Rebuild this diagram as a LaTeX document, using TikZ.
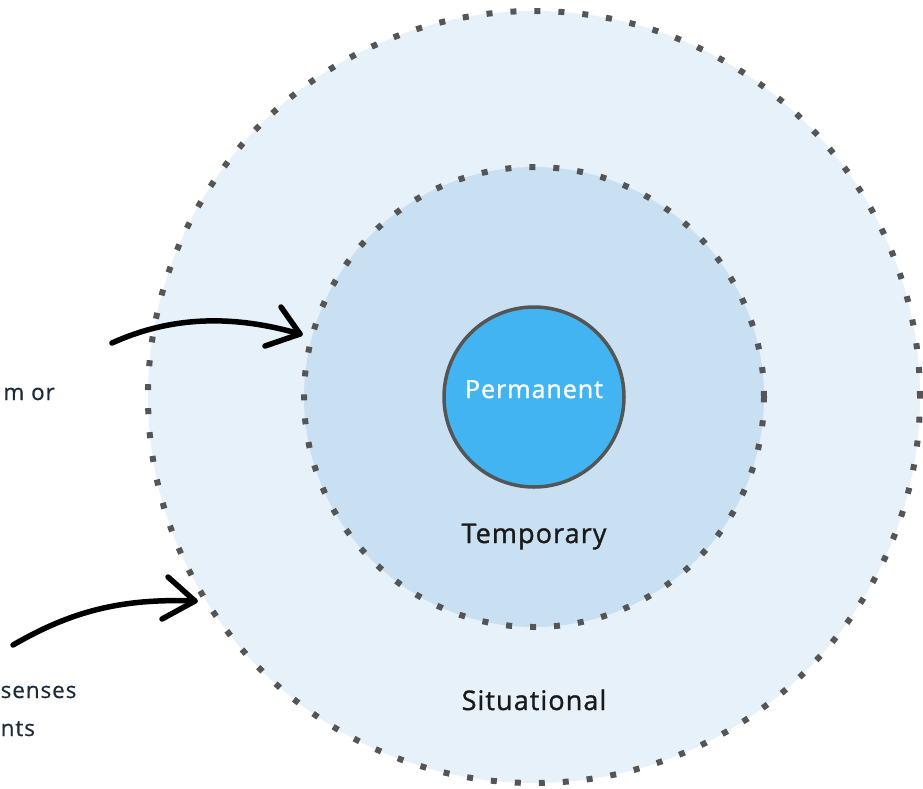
\documentclass[tikz,border=0pt]{standalone}
\usepackage{fontspec}
\setmainfont{Open Sans}
\newfontfamily\labelfont[FakeBold=1.2, LetterSpace=4]{Open Sans}
\newfontfamily\notefont[FakeBold=0.6, LetterSpace=4]{Open Sans}

\begin{document}
\begin{tikzpicture}[x=1pt,y=-1pt]
    % Define radii
    \def\outerRadius{386pt}
    \def\middleRadius{230pt}
    \def\innerRadius{90pt}

    \definecolor{outerFill}{HTML}{E6F1F9}
    \definecolor{middleFill}{HTML}{C9E0F3}
    \definecolor{innerFill}{HTML}{42B4F1}
    \definecolor{dotColour}{HTML}{555555}
    \definecolor{labelColour}{HTML}{1A1A1A}
    \definecolor{noteColour}{HTML}{1C2B3A}

    \tikzset{
        dotted ring/.style={draw=dotColour, line width=6pt, dash pattern=on 6pt off 18pt},
        hand arrow/.style={draw=black, line width=5.5pt, line cap=round, line join=round},
        ring label/.style={text=labelColour, anchor=base, inner sep=0pt, font=\labelfont\fontsize{27}{32}\selectfont},
        note text/.style={text=noteColour, inner sep=0pt, font=\notefont\fontsize{22.5}{27}\selectfont}
    }

    \useasboundingbox (0,0) rectangle (923,788);

    % Draw the three circles
    \coordinate (O) at (534,397);
    \filldraw[fill=outerFill, dotted ring] (O) circle (\outerRadius);
    \filldraw[fill=middleFill, dotted ring] (O) circle (\middleRadius);
    \filldraw[fill=innerFill, draw=dotColour, line width=3.5pt] (O) circle (\innerRadius);

    % Labels
    \node[ring label, text=white, font=\labelfont\fontsize{25}{30}\selectfont] (permanent) at (534,398) {Permanent};
    \node[ring label] (temporary) at (534,543) {Temporary};
    \node[ring label] (situational) at (534,710) {Situational};

    % Notes cut off at the left edge
    \node[note text, anchor=base east] (noteOne) at (55,400) {m or};
    \node[note text, anchor=base west] (noteTwo) at (0.5,698) {senses};
    \node[note text, anchor=base west] (noteThree) at (0.5,736) {nts};

    % Define coordinates for the arrows
    \coordinate (arrowOneStart) at (112,343);
    \coordinate (arrowOneTip) at (300,334);
    \coordinate (arrowTwoStart) at (13,645);
    \coordinate (arrowTwoTip) at (195,601);

    % Draw arrows
    \draw[hand arrow] (arrowOneStart) .. controls (180,312) and (245,318) .. (arrowOneTip);
    \draw[hand arrow] (281,307) -- (arrowOneTip) -- (265,346);
    \draw[hand arrow] (arrowTwoStart) .. controls (70,612) and (120,598) .. (arrowTwoTip);
    \draw[hand arrow] (168,577) -- (arrowTwoTip) -- (162,619);

\end{tikzpicture}
\end{document}
